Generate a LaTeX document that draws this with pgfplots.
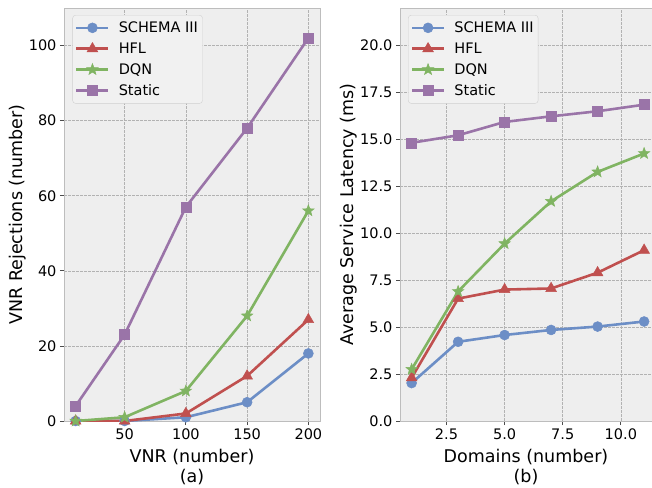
\documentclass[border=0pt]{standalone}
\usepackage{pgfplots}
\pgfplotsset{compat=1.18}
\usepackage{fontspec}
\setmainfont{DejaVu Sans}
\usetikzlibrary{plotmarks}
\pgfdeclareplotmark{fstar}{%
  \pgfpathmoveto{\pgfpointpolar{90}{\pgfplotmarksize}}%
  \pgfpathlineto{\pgfpointpolar{126}{0.42\pgfplotmarksize}}%
  \pgfpathlineto{\pgfpointpolar{162}{\pgfplotmarksize}}%
  \pgfpathlineto{\pgfpointpolar{198}{0.42\pgfplotmarksize}}%
  \pgfpathlineto{\pgfpointpolar{234}{\pgfplotmarksize}}%
  \pgfpathlineto{\pgfpointpolar{270}{0.42\pgfplotmarksize}}%
  \pgfpathlineto{\pgfpointpolar{306}{\pgfplotmarksize}}%
  \pgfpathlineto{\pgfpointpolar{342}{0.42\pgfplotmarksize}}%
  \pgfpathlineto{\pgfpointpolar{18}{\pgfplotmarksize}}%
  \pgfpathlineto{\pgfpointpolar{54}{0.42\pgfplotmarksize}}%
  \pgfpathclose
  \pgfusepathqfillstroke}
\definecolor{cA}{HTML}{6C8EC6}
\definecolor{cB}{HTML}{C0504F}
\definecolor{cC}{HTML}{80B462}
\definecolor{cD}{HTML}{9A74A8}
\definecolor{bgc}{HTML}{EEEEEE}
\definecolor{gridc}{HTML}{B2B2B2}
\definecolor{spinec}{HTML}{BDBDBD}
\definecolor{legf}{HTML}{F1F1F1}
\definecolor{legc}{HTML}{D0D0D0}
\pgfplotsset{mystyle/.style={
  scale only axis,
  axis background/.style={fill=bgc},
  axis line style={draw=spinec, line width=0.9pt},
  grid=major,
  major grid style={draw=gridc, dash pattern=on 2.6pt off 1.4pt, line width=0.6pt},
  tick align=outside,
  xtick pos=bottom, ytick pos=left,
  major tick length=4pt,
  tick style={draw=black!70, line width=0.8pt},
  ticklabel style={font=\fontsize{14.5}{17}\selectfont},
  label style={font=\fontsize{17.5}{20}\selectfont},
  xlabel style={align=center, yshift=-3pt},
  ylabel style={yshift=-4pt},
  /pgf/number format/assume math mode=true,
  legend style={at={(0.033,0.983)}, anchor=north west, draw=legc, fill=legf,
    rounded corners=3pt, font=\fontsize{14.5}{17}\selectfont,
    row sep=4.7pt, column sep=7pt, inner xsep=2.5pt, inner ysep=4.5pt,
    nodes={inner sep=2pt}},
  legend cell align=left,
  legend image code/.code={\draw[mark repeat=2,mark phase=2] plot coordinates {(0pt,0pt) (16pt,0pt) (32pt,0pt)};},
  every axis plot/.append style={line width=2.6pt},
}}
\begin{document}
\begin{tikzpicture}
\useasboundingbox (0,0) rectangle (652pt,487pt);
\begin{axis}[mystyle,
  at={(64pt,66pt)}, anchor=south west,
  width=256pt, height=413pt,
  xmin=0.5, xmax=209.5, ymin=0, ymax=110,
  xtick={50,100,150,200}, ytick={0,20,40,60,80,100},
  xlabel={VNR (number)\\(a)},
  ylabel={VNR Rejections (number)},
]
\addplot[color=cA, mark=*, mark size=5pt, mark options={line width=0.5pt}] coordinates {(10,0) (50,0) (100,1) (150,5) (200,18)};
\addlegendentry{SCHEMA III}
\addplot[color=cB, mark=triangle*, mark size=6.2pt, mark options={line width=0.5pt}] coordinates {(10,0) (50,0) (100,2) (150,12) (200,27)};
\addlegendentry{HFL}
\addplot[color=cC, mark=fstar, mark size=6pt, mark options={line width=0.5pt}] coordinates {(10,0) (50,1) (100,8) (150,28) (200,56)};
\addlegendentry{DQN}
\addplot[color=cD, mark=square*, mark size=5pt, mark options={line width=0.5pt}] coordinates {(10,4) (50,23) (100,57) (150,78) (200,102)};
\addlegendentry{Static}
\end{axis}
\begin{axis}[mystyle,
  at={(400pt,66pt)}, anchor=south west,
  width=252pt, height=413pt,
  xmin=0.5, xmax=11.34, ymin=0, ymax=22,
  xtick={2.5,5,7.5,10}, ytick={0,2.5,5,7.5,10,12.5,15,17.5,20},
  xticklabel style={/pgf/number format/.cd, fixed, fixed zerofill, precision=1},
  yticklabel style={/pgf/number format/.cd, fixed, fixed zerofill, precision=1},
  xlabel={Domains (number)\\(b)},
  ylabel={Average Service Latency (ms)},
  legend style={at={(0.032,0.983)}},
]
\addplot[color=cA, mark=*, mark size=5pt, mark options={line width=0.5pt}] coordinates {(1,2.02) (3,4.22) (5,4.58) (7,4.85) (9,5.03) (11,5.3)};
\addlegendentry{SCHEMA III}
\addplot[color=cB, mark=triangle*, mark size=6.2pt, mark options={line width=0.5pt}] coordinates {(1,2.3) (3,6.52) (5,7.0) (7,7.06) (9,7.9) (11,9.1)};
\addlegendentry{HFL}
\addplot[color=cC, mark=fstar, mark size=6pt, mark options={line width=0.5pt}] coordinates {(1,2.75) (3,6.9) (5,9.45) (7,11.7) (9,13.27) (11,14.25)};
\addlegendentry{DQN}
\addplot[color=cD, mark=square*, mark size=5pt, mark options={line width=0.5pt}] coordinates {(1,14.82) (3,15.22) (5,15.93) (7,16.23) (9,16.5) (11,16.85)};
\addlegendentry{Static}
\end{axis}
\end{tikzpicture}
\end{document}
